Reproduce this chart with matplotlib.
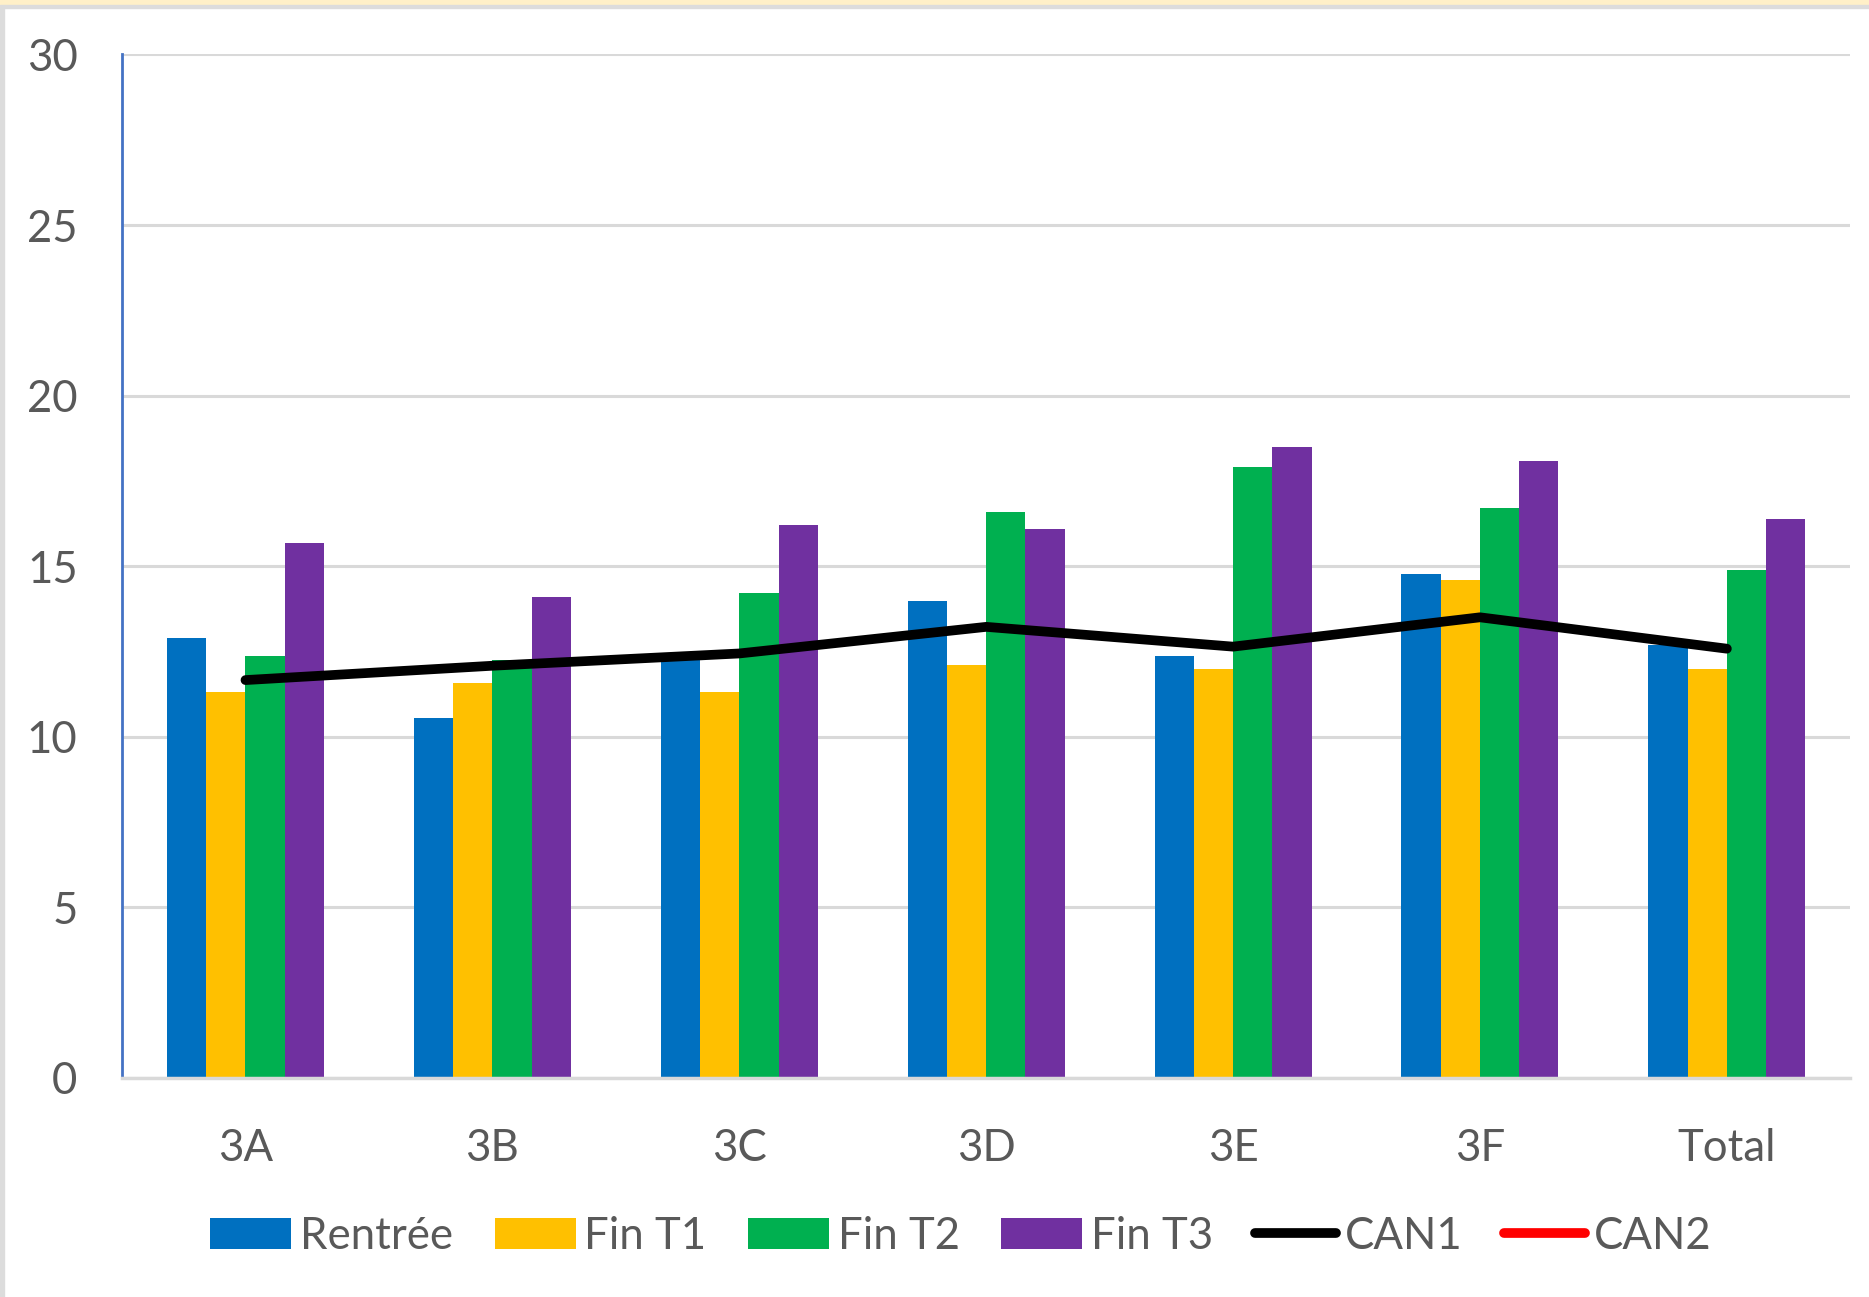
import numpy as np
import matplotlib
matplotlib.use("Agg")
import matplotlib.pyplot as plt
from matplotlib.patches import Rectangle

categories = ["3A", "3B", "3C", "3D", "3E", "3F", "Total"]
rentree = [12.9, 10.55, 12.4, 13.98, 12.38, 14.78, 12.7]
fin_t1 = [11.3, 11.58, 11.3, 12.09, 11.98, 14.6, 11.98]
fin_t2 = [12.38, 12.26, 14.2, 16.6, 17.91, 16.71, 14.88]
fin_t3 = [15.68, 14.09, 16.2, 16.09, 18.48, 18.09, 16.37]
can1 = [11.66, 12.08, 12.44, 13.22, 12.64, 13.5, 12.58]
can2 = [None, None, None, None, None, None, None]

series_names = ["Rentrée", "Fin T1", "Fin T2", "Fin T3"]
colors = ["#0070C0", "#FFC000", "#00B050", "#7030A0"]

plt.rcParams['font.family'] = ['Lato', 'DejaVu Sans']
FS = 31.5

fig = plt.figure(figsize=(18.69, 12.97), dpi=100)
ax = fig.add_axes([0.0653, 0.169, 0.9247, 0.789])

x = np.arange(len(categories))
w = 0.159
handles = []
for i, (vals, name, c) in enumerate(zip([rentree, fin_t1, fin_t2, fin_t3], series_names, colors)):
    b = ax.bar(x + (i - 1.5) * w, vals, width=w, color=c, label=name, zorder=2)
    handles.append(b)

l1, = ax.plot(x, can1, color="black", lw=7, solid_capstyle="round",
              solid_joinstyle="round", label="CAN1", zorder=3)
l2, = ax.plot(x, np.array(can2, dtype=float), color="#FF0000", lw=7,
              solid_capstyle="round", label="CAN2", zorder=3)
handles += [l1, l2]

ax.set_xlim(-0.5, len(categories) - 0.5)
ax.set_ylim(0, 30)
ax.set_yticks(range(0, 31, 5))
ax.set_xticks(x)
ax.set_xticklabels(categories)
ax.tick_params(axis="both", length=0, labelsize=FS, colors="#595959")
ax.tick_params(axis="y", pad=32)
ax.tick_params(axis="x", pad=36)
ax.yaxis.grid(True, color="#D9D9D9", lw=2.2, zorder=0)
ax.set_axisbelow(True)
for s in ["top", "right"]:
    ax.spines[s].set_visible(False)
ax.spines["left"].set_color("#4472C4")
ax.spines["left"].set_linewidth(2)
ax.spines["bottom"].set_color("#D9D9D9")
ax.spines["bottom"].set_linewidth(2.5)

ax.legend(handles=handles, labels=series_names + ["CAN1", "CAN2"],
          loc="center", bbox_to_anchor=(0.514, 0.047), bbox_transform=fig.transFigure,
          ncol=6, frameon=False, fontsize=FS, labelcolor="#595959",
          handlelength=1.85, handleheight=0.7, handletextpad=0.2, columnspacing=0.95)

# thin frame of the original screenshot
fig.patches.append(Rectangle((0, 0.9965), 1, 0.0035, transform=fig.transFigure,
                             color="#FFF0C8", zorder=0))
fig.patches.append(Rectangle((0, 0.994), 1, 0.0025, transform=fig.transFigure,
                             color="#DCDCDC", zorder=0))
fig.patches.append(Rectangle((0, 0), 0.002, 0.994, transform=fig.transFigure,
                             color="#DCDCDC", zorder=0))

fig.savefig("out.png", dpi=100)
